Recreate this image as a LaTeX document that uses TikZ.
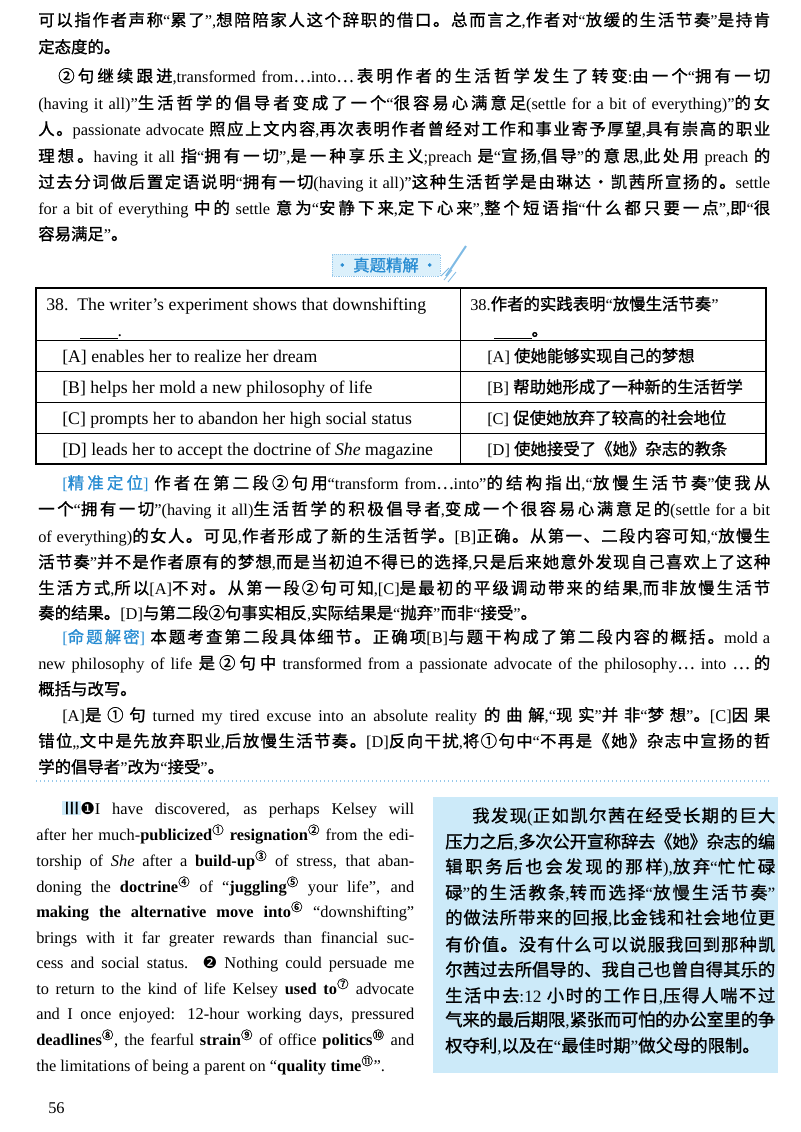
\documentclass[tikz,border=0pt]{standalone}
\usepackage{fontspec}
\setmainfont{Liberation Serif}
\newfontfamily\cjk{Noto Sans CJK SC}[FakeBold=1.1]
\newfontfamily\dejavu{DejaVu Sans}
\newXeTeXintercharclass\CJKc
\count255="3000
\loop\XeTeXcharclass\count255=\CJKc\ifnum\count255<"9FFF\advance\count255 1\repeat
\count255="FF00
\loop\XeTeXcharclass\count255=\CJKc\ifnum\count255<"FFEF\advance\count255 1\repeat
\count255="2460
\loop\XeTeXcharclass\count255=\CJKc\ifnum\count255<"24FF\advance\count255 1\repeat
\XeTeXcharclass"2162=\CJKc
\XeTeXcharclass"2026=\CJKc
\XeTeXcharclass"00B7=\CJKc
\XeTeXinterchartoks 0 \CJKc={\begingroup\cjk}
\XeTeXinterchartoks 4095 \CJKc={\begingroup\cjk}
\XeTeXinterchartoks \CJKc 0={\endgroup}
\XeTeXinterchartoks \CJKc 4095={\endgroup}
\XeTeXinterchartoks \CJKc \CJKc={\hskip0pt plus 3pt minus 0.8pt\relax}
\XeTeXinterchartokenstate=1
\newdimen\pxu \pxu=0.75pt
\definecolor{lblue}{RGB}{40,140,210}
\definecolor{boxblue}{RGB}{204,234,249}
\definecolor{dotblue}{RGB}{150,200,235}
\newcommand\LL[4]{\node[anchor=base west,inner sep=0] at (#1,#2) {\makebox[#3\pxu][s]{#4}};}
\newcommand\LN[3]{\node[anchor=base west,inner sep=0] at (#1,#2) {#3};}
\newcommand\TE[3]{\node[anchor=base west,inner sep=0,font=\fontsize{13.3}{15}\selectfont] at (#1,#2) {#3};}
\begin{document}
\begin{tikzpicture}[x=0.75pt,y=-0.75pt,font=\fontsize{12.3}{14}\selectfont]
\useasboundingbox (0,0) rectangle (800,1132);
% top paragraphs
\LL{38}{26}{732}{可以指作者声称“累了”,想陪陪家人这个辞职的借口。总而言之,作者对“放缓的生活节奏”是持肯}
\LN{38}{53}{定态度的。}
\LL{58}{82}{712}{②句继续跟进,transformed from…into…表明作者的生活哲学发生了转变:由一个“拥有一切}
\LL{38}{109}{732}{(having it all)”生活哲学的倡导者变成了一个“很容易心满意足(settle for a bit of everything)”的女}
\LL{38}{135}{732}{人。passionate advocate 照应上文内容,再次表明作者曾经对工作和事业寄予厚望,具有崇高的职业}
\LL{38}{162}{732}{理想。having it all 指“拥有一切”,是一种享乐主义;preach 是“宣扬,倡导”的意思,此处用 preach 的}
\LL{38}{188}{732}{过去分词做后置定语说明“拥有一切(having it all)”这种生活哲学是由琳达·凯茜所宣扬的。settle}
\LL{38}{214}{732}{for a bit of everything 中的 settle 意为“安静下来,定下心来”,整个短语指“什么都只要一点”,即“很}
\LN{38}{240}{容易满足”。}
% banner
\node[draw=dotblue,densely dotted,fill=boxblue!70,minimum width=108\pxu,minimum height=22\pxu,inner sep=0,text=lblue] (ban) at (386,265) {·\,真题精解\,·};
\draw[lblue!60,line width=1.5pt] (446,276) -- (466,246);
\draw[lblue!60,line width=0.6pt] (444,280) -- (452,270) (448,282)--(456,272) (441,276)--(449,268);
% table
\draw[line width=1pt] (36,288) rectangle (766,464);
\draw[line width=0.6pt] (460,288) -- (460,464);
\foreach \yy in {340,371,402,433} \draw[line width=0.6pt] (36,\yy) -- (766,\yy);
\TE{46}{310}{38.\ \ The writer’s experiment shows that downshifting}
\TE{80}{336}{\underline{\hspace{28pt}}.}
\LN{470}{310}{38.作者的实践表明“放慢生活节奏”}
\LN{494}{336}{\underline{\hspace{28pt}}。}
\TE{62}{362}{[A] enables her to realize her dream}
\TE{62}{393}{[B] helps her mold a new philosophy of life}
\TE{62}{424}{[C] prompts her to abandon her high social status}
\TE{62}{455}{[D] leads her to accept the doctrine of \textit{She} magazine}
\LN{487}{362}{[A] 使她能够实现自己的梦想}
\LN{487}{393}{[B] 帮助她形成了一种新的生活哲学}
\LN{487}{424}{[C] 促使她放弃了较高的社会地位}
\LN{487}{455}{[D] 使她接受了《她》杂志的教条}
% analysis
\LL{62}{489}{708}{\textcolor{lblue}{[精准定位]} 作者在第二段②句用“transform from…into”的结构指出,“放慢生活节奏”使我从}
\LL{38}{515}{732}{一个“拥有一切”(having it all)生活哲学的积极倡导者,变成一个很容易心满意足的(settle for a bit}
\LL{38}{542}{732}{of everything)的女人。可见,作者形成了新的生活哲学。[B]正确。从第一、二段内容可知,“放慢生}
\LL{38}{568}{732}{活节奏”并不是作者原有的梦想,而是当初迫不得已的选择,只是后来她意外发现自己喜欢上了这种}
\LL{38}{594}{732}{生活方式,所以[A]不对。从第一段②句可知,[C]是最初的平级调动带来的结果,而非放慢生活节}
\LN{38}{619}{奏的结果。[D]与第二段②句事实相反,实际结果是“抛弃”而非“接受”。}
\LL{62}{643}{708}{\textcolor{lblue}{[命题解密]} 本题考查第二段具体细节。正确项[B]与题干构成了第二段内容的概括。mold a}
\LL{38}{669}{732}{new philosophy of life 是②句中 transformed from a passionate advocate of the philosophy… into …的}
\LN{38}{695}{概括与改写。}
\LL{62}{721}{708}{[A]是①句 turned my tired excuse into an absolute reality 的曲解,“现实”并非“梦想”。[C]因果}
\LL{38}{747}{732}{错位,,文中是先放弃职业,后放慢生活节奏。[D]反向干扰,将①句中“不再是《她》杂志中宣扬的哲}
\LN{38}{773}{学的倡导者”改为“接受”。}
\draw[dotblue,dotted,line width=1pt] (36,781) -- (770,781);
% English passage
\node[fill=boxblue,inner sep=1pt,anchor=base west] at (62,814) {Ⅲ};
\LL{80}{814}{334}{{\dejavu ❶}I have discovered, as perhaps Kelsey will}
\LL{36}{840}{378}{after her much-\textbf{publicized}\textsuperscript{①} \textbf{resignation}\textsuperscript{②} from the edi-}
\LL{36}{866}{378}{torship of \textit{She} after a \textbf{build-up}\textsuperscript{③} of stress, that aban-}
\LL{36}{892}{378}{doning the \textbf{doctrine}\textsuperscript{④} of “\textbf{juggling}\textsuperscript{⑤} your life”, and}
\LL{36}{917}{378}{\textbf{making the alternative move into}\textsuperscript{⑥} “downshifting”}
\LL{36}{943}{378}{brings with it far greater rewards than financial suc-}
\LL{36}{968}{378}{cess and social status. {\dejavu ❷} Nothing could persuade me}
\LL{36}{994}{378}{to return to the kind of life Kelsey \textbf{used to}\textsuperscript{⑦} advocate}
\LL{36}{1019}{378}{and I once enjoyed: 12-hour working days, pressured}
\LL{36}{1045}{378}{\textbf{deadlines}\textsuperscript{⑧}, the fearful \textbf{strain}\textsuperscript{⑨} of office \textbf{politics}\textsuperscript{⑩} and}
\LN{36}{1071}{the limitations of being a parent on “\textbf{quality time}\textsuperscript{⑪}”.}
% right box
\fill[boxblue] (433,797) rectangle (778,1073);
\begin{scope}[font=\fontsize{13}{15}\selectfont]
\LL{472}{822}{303}{我发现(正如凯尔茜在经受长期的巨大}
\LL{445}{848}{330}{压力之后,多次公开宣称辞去《她》杂志的编}
\LL{445}{873}{330}{辑职务后也会发现的那样),放弃“忙忙碌}
\LL{445}{899}{330}{碌”的生活教条,转而选择“放慢生活节奏”}
\LL{445}{924}{330}{的做法所带来的回报,比金钱和社会地位更}
\LL{445}{951}{330}{有价值。没有什么可以说服我回到那种凯}
\LL{445}{976}{330}{尔茜过去所倡导的、我自己也曾自得其乐的}
\LL{445}{1002}{330}{生活中去:12 小时的工作日,压得人喘不过}
\LL{445}{1026}{330}{气来的最后期限,紧张而可怕的办公室里的争}
\LN{445}{1052}{权夺利,以及在“最佳时期”做父母的限制。}
\end{scope}
\LN{48}{1113}{56}
\end{tikzpicture}
\end{document}
